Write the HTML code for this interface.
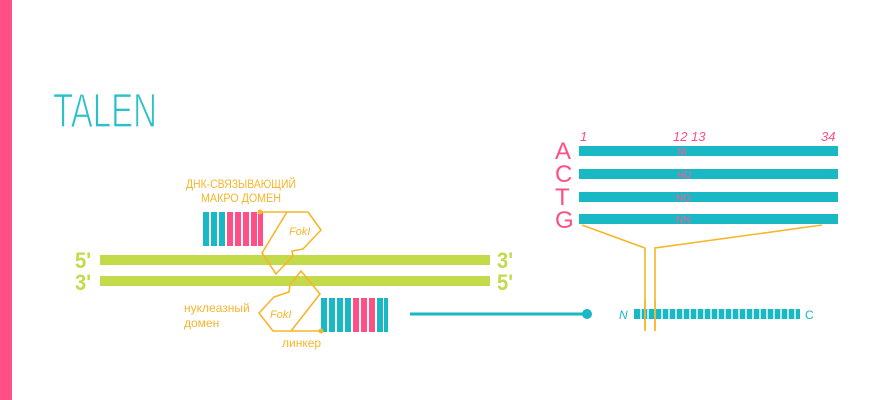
<!DOCTYPE html>
<html><head><meta charset="utf-8"><style>
html,body{margin:0;padding:0;background:#fff;}
svg{display:block}
text{font-family:"Liberation Sans",sans-serif}
</style></head><body>
<svg width="870" height="400" viewBox="0 0 870 400" xmlns="http://www.w3.org/2000/svg">
<rect x="0" y="0" width="12" height="400" fill="#fe4f86"/>
<text x="53" y="127" font-size="48" fill="#2cc0cb" textLength="104" lengthAdjust="spacingAndGlyphs" style="font-family:'Liberation Sans Narrow','Liberation Sans',sans-serif" stroke="#fff" stroke-width="1.2" paint-order="normal">TALEN</text>

<!-- DNA -->
<rect x="100" y="255" width="390" height="10" fill="#c3da4a"/>
<rect x="100" y="276" width="390" height="10" fill="#c3da4a"/>
<g fill="#c3da4a" font-size="22" font-weight="bold">
<text x="75" y="268" textLength="16" lengthAdjust="spacingAndGlyphs">5'</text>
<text x="75" y="290" textLength="16" lengthAdjust="spacingAndGlyphs">3'</text>
<text x="497" y="268" textLength="16" lengthAdjust="spacingAndGlyphs">3'</text>
<text x="497" y="290" textLength="16" lengthAdjust="spacingAndGlyphs">5'</text>
</g>

<!-- labels -->
<text x="186" y="188" font-size="12" fill="#f7b52a" textLength="110" lengthAdjust="spacingAndGlyphs">ДНК-СВЯЗЫВАЮЩИЙ</text>
<text x="201" y="202" font-size="12" fill="#f7b52a" textLength="80" lengthAdjust="spacingAndGlyphs">МАКРО ДОМЕН</text>
<text x="184" y="312" font-size="12" fill="#f7b52a">нуклеазный</text>
<text x="184" y="327" font-size="12" fill="#f7b52a">домен</text>
<text x="282" y="347" font-size="12" fill="#f7b52a">линкер</text>

<!-- top blocks -->
<g>
<rect x="203" y="212" width="6" height="34" fill="#18b8c4"/>
<rect x="211" y="212" width="6" height="34" fill="#18b8c4"/>
<rect x="219" y="212" width="6" height="34" fill="#18b8c4"/>
<rect x="227" y="212" width="6" height="34" fill="#fe4f86"/>
<rect x="235" y="212" width="6" height="34" fill="#fe4f86"/>
<rect x="243" y="212" width="6" height="34" fill="#fe4f86"/>
<rect x="251" y="212" width="6" height="34" fill="#fe4f86"/>
<rect x="258" y="212" width="5" height="34" fill="#fe4f86"/>
</g>
<!-- bottom blocks -->
<g>
<rect x="321" y="298" width="6" height="34" fill="#18b8c4"/>
<rect x="329" y="298" width="6" height="34" fill="#18b8c4"/>
<rect x="337" y="298" width="6" height="34" fill="#18b8c4"/>
<rect x="345" y="298" width="6" height="34" fill="#18b8c4"/>
<rect x="353" y="298" width="6" height="34" fill="#fe4f86"/>
<rect x="361" y="298" width="6" height="34" fill="#fe4f86"/>
<rect x="369" y="298" width="6" height="34" fill="#fe4f86"/>
<rect x="377" y="298" width="6" height="34" fill="#18b8c4"/>
<rect x="384" y="298" width="4" height="34" fill="#18b8c4"/>
</g>

<!-- FokI shapes -->
<g fill="none" stroke="#f7b52a" stroke-width="1.6" stroke-linejoin="round">
<polyline points="260,212 287,212"/>
<polygon points="287,212 308,212 321,230 303,249 292,251 293,256 276,274 262,253"/>
<polygon points="301,271 320,294 291,331 273,331 259,313 274,297 289,292 290,285"/>
<polyline points="291,331 321,331"/>
</g>
<circle cx="260" cy="212" r="2.5" fill="#f7b52a"/>
<circle cx="321" cy="331" r="2.5" fill="#f7b52a"/>
<text x="289" y="235" font-size="11" fill="#f7b52a" font-style="italic">FokI</text>
<text x="270" y="318" font-size="11" fill="#f7b52a" font-style="italic">FokI</text>

<!-- connector -->
<line x1="410" y1="314" x2="585" y2="314" stroke="#18b8c4" stroke-width="3"/>
<circle cx="587" cy="314" r="5" fill="#18b8c4"/>

<!-- right bars -->
<g fill="#18b8c4">
<rect x="579" y="146" width="259" height="10"/>
<rect x="579" y="169" width="259" height="10"/>
<rect x="579" y="192" width="259" height="10"/>
<rect x="579" y="214" width="259" height="10"/>
</g>
<g fill="#fe4f86" font-size="24">
<text x="555" y="159">A</text>
<text x="555" y="182">C</text>
<text x="555" y="205">T</text>
<text x="555" y="228">G</text>
</g>
<g fill="#fe4f86" font-size="13" font-style="italic">
<text x="580" y="141">1</text>
<text x="673" y="141">12 13</text>
<text x="821" y="141">34</text>
</g>
<g fill="#ff5b93" font-size="10">
<text x="677" y="155">NI</text>
<text x="677" y="178">HD</text>
<text x="676" y="201">NG</text>
<text x="676" y="223">NN</text>
</g>

<!-- yellow funnel -->
<g fill="none" stroke="#f7b52a" stroke-width="1.6">
<polyline points="582,225 645,248 645,331"/>
<polyline points="822,225 655,248 655,331"/>
</g>

<!-- N..C chain -->
<text x="619" y="319" font-size="12" fill="#18b8c4" font-style="italic">N</text>
<g fill="#18b8c4">
<rect x="634" y="309" width="166" height="10"/>
</g>
<g stroke="#fff" stroke-width="1.4">
<line x1="641" y1="309" x2="641" y2="319"/><line x1="648" y1="309" x2="648" y2="319"/>
<line x1="655" y1="309" x2="655" y2="319"/><line x1="662" y1="309" x2="662" y2="319"/>
<line x1="669" y1="309" x2="669" y2="319"/><line x1="676" y1="309" x2="676" y2="319"/>
<line x1="683" y1="309" x2="683" y2="319"/><line x1="690" y1="309" x2="690" y2="319"/>
<line x1="697" y1="309" x2="697" y2="319"/><line x1="704" y1="309" x2="704" y2="319"/>
<line x1="711" y1="309" x2="711" y2="319"/><line x1="718" y1="309" x2="718" y2="319"/>
<line x1="725" y1="309" x2="725" y2="319"/><line x1="732" y1="309" x2="732" y2="319"/>
<line x1="739" y1="309" x2="739" y2="319"/><line x1="746" y1="309" x2="746" y2="319"/>
<line x1="753" y1="309" x2="753" y2="319"/><line x1="760" y1="309" x2="760" y2="319"/>
<line x1="767" y1="309" x2="767" y2="319"/><line x1="774" y1="309" x2="774" y2="319"/>
<line x1="781" y1="309" x2="781" y2="319"/><line x1="788" y1="309" x2="788" y2="319"/>
<line x1="795" y1="309" x2="795" y2="319"/>
</g>
<g fill="none" stroke="#f7b52a" stroke-width="1.6">
<line x1="645" y1="300" x2="645" y2="331"/><line x1="655" y1="300" x2="655" y2="331"/>
</g>
<text x="805" y="319" font-size="12" fill="#18b8c4">C</text>
</svg>
</body></html>
